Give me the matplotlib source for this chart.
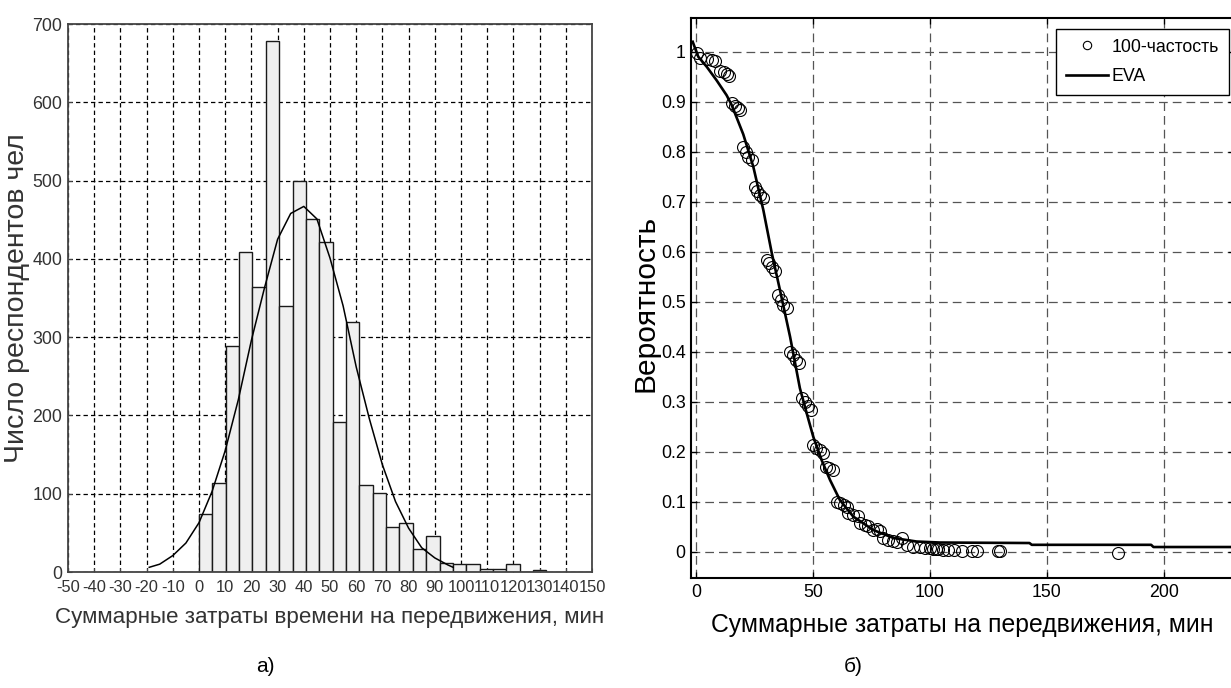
import numpy as np
import matplotlib
matplotlib.use('agg')
import matplotlib.pyplot as plt
from matplotlib import font_manager

# --- а) histogram of total travel time ---
bin_start = 0.0
bin_width = 5.1
counts = [74, 114, 289, 409, 364, 678, 340, 500, 451, 422, 191, 319, 111,
          101, 57, 63, 29, 46, 11, 10, 10, 4, 4, 10, 0, 2]

# fitted normal curve
fit_x = [-19, -15, -10, -5, 0, 5, 10, 15, 20, 25, 30, 35, 40, 45, 50, 55,
         60, 65, 70, 75, 80, 85, 90, 95, 97]
fit_y = [6, 10, 21, 37, 63, 103, 155, 220, 296, 363, 425, 458, 467, 451,
         401, 340, 262, 196, 137, 90, 56, 31, 18, 9, 6]

# --- б) 100-частость points and EVA curve ---
obs_x = [0.3, 1.7, 4.6, 6.7, 8.1, 10.3, 12.0, 13.1, 14.2, 15.3, 16.8, 18.1,
         18.8, 20.2, 21.4, 22.4, 23.8, 25.2, 26.2, 27.4, 28.6, 30.2, 31.3,
         32.3, 33.8, 35.2, 36.2, 37.4, 38.8, 40.2, 41.3, 42.7, 44.2, 45.5,
         46.6, 48.0, 49.0, 49.9, 51.3, 53.0, 54.4, 55.6, 57.0, 58.4, 60.1,
         61.5, 63.2, 64.4, 65.1, 67.2, 69.4, 70.1, 72.2, 73.6, 75.8, 77.5,
         78.6, 80.1, 82.2, 84.4, 85.8, 88.0, 90.0, 92.8, 95.7, 97.8, 99.9,
         101.4, 102.5, 103.6, 105.7, 107.8, 110.2, 113.5, 117.8, 120.0,
         129.2, 129.9, 180.5]
obs_y = [0.997, 0.987, 0.985, 0.983, 0.982, 0.962, 0.959, 0.955, 0.951,
         0.897, 0.891, 0.887, 0.883, 0.81, 0.80, 0.79, 0.783, 0.73, 0.722,
         0.713, 0.707, 0.583, 0.577, 0.570, 0.562, 0.513, 0.503, 0.493,
         0.487, 0.40, 0.393, 0.383, 0.377, 0.307, 0.300, 0.291, 0.283,
         0.213, 0.207, 0.203, 0.198, 0.17, 0.167, 0.163, 0.10, 0.097, 0.093,
         0.09, 0.077, 0.073, 0.071, 0.057, 0.053, 0.051, 0.043, 0.045, 0.042,
         0.027, 0.023, 0.022, 0.02, 0.027, 0.013, 0.01, 0.009, 0.007, 0.007,
         0.006, 0.005, 0.005, 0.004, 0.004, 0.003, 0.002, 0.002, 0.002,
         0.002, 0.002, -0.002]

eva_x = [-1.4, 1.0, 4.6, 8.8, 13.1, 15.3, 20.2, 24.5, 28.8, 32.4, 35.9, 40.2,
         44.4, 47.3, 50.1, 53.7, 57.3, 61.5, 67.2, 75.8, 84.4, 94.3, 104.3,
         142.5, 143.5, 194.5, 195.5, 232]
eva_y = [1.02, 0.99, 0.97, 0.943, 0.913, 0.893, 0.835, 0.77, 0.683, 0.597,
         0.523, 0.43, 0.327, 0.277, 0.23, 0.183, 0.143, 0.103, 0.07, 0.043,
         0.027, 0.02, 0.018, 0.017, 0.0134, 0.0134, 0.009, 0.009]

# narrow font if the system has it, otherwise shrink regular Liberation
_names = {f.name for f in font_manager.fontManager.ttflist}
if 'Liberation Sans Narrow' in _names:
    NARROW, k = 'Liberation Sans Narrow', 1.0
else:
    NARROW, k = 'Liberation Sans', 0.85
REG = 'Liberation Sans'
plt.rcParams['font.family'] = [NARROW, 'DejaVu Sans']
plt.rcParams['axes.unicode_minus'] = False

fig = plt.figure(figsize=(12.31, 6.88), dpi=100)

# ---------- left panel ----------
ax1 = fig.add_axes([0.05524, 0.16860, 0.42567, 0.79651])
edges = bin_start + bin_width * np.arange(len(counts))
ax1.bar(edges, counts, width=bin_width, align='edge', color='#efefef',
        edgecolor='#1a1a1a', linewidth=1.0, zorder=2)
ax1.plot(fit_x, fit_y, color='black', lw=1.1, zorder=3)
ax1.set_xlim(-50, 150)
ax1.set_ylim(0, 700)
ax1.set_xticks(np.arange(-50, 151, 10))
ax1.set_yticks(np.arange(0, 701, 100))
ax1.set_axisbelow(True)
ax1.grid(True, color='black', linestyle=(0, (3.5, 2.5)), linewidth=0.9)
for s in ax1.spines.values():
    s.set_color('#444444')
    s.set_linewidth(1.3)
ax1.tick_params(direction='in', length=3, width=0.8, color='#444444',
                labelsize=15 * k, labelcolor='#333333', pad=4)
ax1.tick_params(axis='x', labelsize=14 * k, pad=6)
ax1.set_xlabel('Суммарные затраты времени на передвижения, мин',
               fontsize=19 * k, color='#333333')
ax1.xaxis.set_label_coords(0.5, -0.064)
ax1.set_ylabel('Число респондентов чел', family=REG, fontsize=20.5,
               color='#333333', va='center')
ax1.yaxis.set_label_coords(-0.097, 0.5)

# ---------- right panel ----------
ax2 = fig.add_axes([0.56157, 0.15988, 0.44103, 0.81352])
ax2.plot(obs_x, obs_y, 'o', mfc='none', mec='black', ms=8.6, mew=0.8,
         label='100-частость', zorder=3)
ax2.plot(eva_x, eva_y, '-', color='black', lw=1.9, label='EVA', zorder=4)
ax2.set_xlim(-2, 230)
ax2.set_ylim(-0.053, 1.067)
ax2.set_xticks([0, 50, 100, 150, 200])
ax2.set_yticks(np.round(np.arange(0, 1.01, 0.1), 1))
ax2.set_yticklabels(['0'] + ['%.1f' % v for v in np.arange(0.1, 0.95, 0.1)] + ['1'])
ax2.set_axisbelow(True)
ax2.grid(True, color='#555555', linestyle=(0, (7, 4)), linewidth=0.9)
for s in ax2.spines.values():
    s.set_color('black')
    s.set_linewidth(1.5)
ax2.tick_params(direction='in', length=4, width=0.9, top=True, right=True,
                labelsize=15 * k, pad=4)
ax2.set_xlabel('Суммарные затраты на передвижения, мин', fontsize=21 * k)
ax2.xaxis.set_label_coords(0.5, -0.062)
ax2.set_ylabel('Вероятность', family=REG, fontsize=21.5, va='center')
ax2.yaxis.set_label_coords(-0.085, 0.49)
leg = ax2.legend(loc='upper right', bbox_to_anchor=(0.9904, 0.981),
                 borderaxespad=0, fancybox=False, framealpha=1,
                 edgecolor='black', fontsize=15 * k, handlelength=2.4,
                 handletextpad=0.2, borderpad=0.55, labelspacing=0.7,
                 markerscale=0.7)
leg.get_frame().set_linewidth(1.0)

fig.text(265 / 1231, 1 - 666 / 688, 'а)', ha='center', va='center',
         fontsize=15, family=REG)
fig.text(853 / 1231, 1 - 666 / 688, 'б)', ha='center', va='center',
         fontsize=15, family=REG)

fig.savefig('out.png', dpi=100)
